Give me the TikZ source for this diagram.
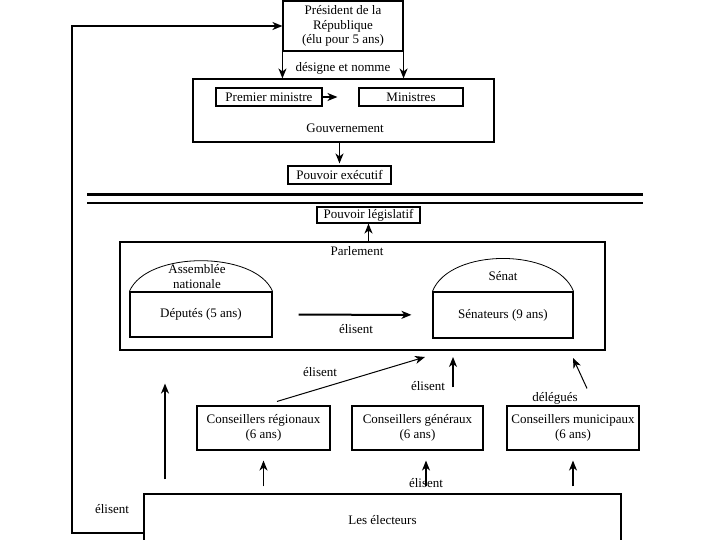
\documentclass[tikz,border=0pt]{standalone}
\usepackage{fontspec}
\setmainfont{Liberation Serif}
\usetikzlibrary{arrows.meta}
\begin{document}
\begin{tikzpicture}[x=1pt,y=-1pt,
  box/.style={draw, line width=1.1pt, inner sep=0pt, align=center, font=\fontsize{13}{14.5}\selectfont},
  txt/.style={inner sep=0pt, align=center, font=\fontsize{13}{14.5}\selectfont},
  arr/.style={-{Stealth[length=10pt,width=8pt,inset=3pt]}, line width=1.2pt},
  thickarr/.style={arr, line width=2pt}]
\useasboundingbox (0,0) rectangle (720,540);
\clip (0,0) rectangle (720,540);
% executive
\node[box, minimum width=120, minimum height=50] (pres) at (343,26) {Président de la\\République\\(élu pour 5 ans)};
\node[box, minimum width=301, minimum height=63] (gov) at (343.5,110.5) {};
\node[txt] (govlbl) at (345,128) {Gouvernement};
\node[box, minimum width=106, minimum height=18] (pm) at (269,97) {Premier ministre};
\node[box, minimum width=104, minimum height=18] (min) at (411,97) {Ministres};
\node[box, minimum width=103, minimum height=18] (exec) at (339.5,175) {Pouvoir exécutif};
\node[txt] (desig) at (343,68) {désigne et nomme};
\draw[arr] (pres.south west) -- (pres.south west |- gov.north);
\draw[arr] (pres.south east) -- (pres.south east |- gov.north);
\draw[arr, shorten >=21pt] (pm) -- (min);
\draw[arr] (exec.north |- gov.south) -- ([yshift=2pt]exec.north);
% separation
\draw[line width=3pt] (87,195) -- (643,195);
\draw[line width=1.5pt] (87,203) -- (643,203);
% legislative
\node[box, minimum width=103, minimum height=16] (leg) at (368.5,215) {Pouvoir législatif};
\node[box, minimum width=485, minimum height=108] (parl) at (362.5,296) {};
\node[txt] (parllbl) at (357,251) {Parlement};
\draw[arr] (leg.south |- parl.north) -- (leg.south);
\node[box, minimum width=142, minimum height=45] (dep) at (201,314.5) {Députés (5 ans)};
\node[box, minimum width=140, minimum height=46] (sen) at (503,315) {Sénateurs (9 ans)};
\draw[line width=0.8pt] (dep.north west) .. controls +(17,-41) and +(-17,-41) .. (dep.north east);
\draw[line width=0.8pt] (sen.north west) .. controls +(17,-44) and +(-17,-44) .. (sen.north east);
\node[txt] (an) at (197,276.5) {Assemblée\\nationale};
\node[txt] (senat) at (503,276) {Sénat};
\draw[thickarr, shorten <=26pt, shorten >=21pt] (dep) -- (sen);
\node[txt] (el1) at (356,329) {élisent};
% councils
\node[box, minimum width=133, minimum height=44] (cr) at (263.5,428) {Conseillers régionaux\\(6 ans)};
\node[box, minimum width=131, minimum height=44] (cg) at (417.5,428) {Conseillers généraux\\(6 ans)};
\node[box, minimum width=132, minimum height=44] (cm) at (573,428) {Conseillers municipaux\\(6 ans)};
\node[box, minimum width=477, minimum height=52] (elec) at (382.5,520) {Les électeurs};
\coordinate (lx) at (165,0);
\coordinate (cgx) at (426,0);
\coordinate (t1) at (425,357);
\coordinate (t2) at (453,357);
\coordinate (t3) at (573,358);
\coordinate (fbx) at (72,300);
\draw[thickarr, shorten <=14pt, shorten >=33pt] (elec.north -| lx) -- (parl.south -| lx);
\draw[arr, shorten <=7pt, shorten >=10pt] (elec.north -| cr) -- (cr.south);
\draw[arr, shorten <=7pt, shorten >=10pt] (elec.north -| cgx) -- (cg.south -| cgx);
\draw[arr, shorten <=7pt, shorten >=10pt] (elec.north -| cm) -- (cm.south);
\node[txt] (el2) at (426,483) {élisent};
\draw[arr, line width=1pt] ([xshift=13.5pt,yshift=4pt]cr.north) -- (t1);
\node[txt] (el3) at (320,372) {élisent};
\draw[arr] ([xshift=35.5pt,yshift=18pt]cg.north) -- (t2);
\node[txt] (el4) at (428,386) {élisent};
\draw[arr, line width=1pt] ([xshift=14pt,yshift=17pt]cm.north) -- (t3);
\node[txt] (deleg) at (555,398) {délégués};
% feedback
\draw[thickarr] ([yshift=14pt]elec.south west) -| (fbx) |- (pres.west);
\node[txt] (el5) at (112,509) {élisent};
\end{tikzpicture}
\end{document}
